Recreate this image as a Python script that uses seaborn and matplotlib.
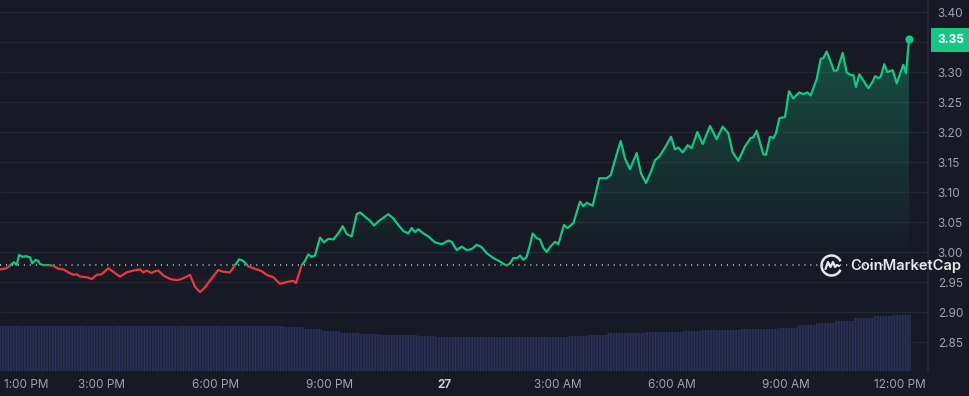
import numpy as np
import pandas as pd
import matplotlib
matplotlib.use("Agg")
import matplotlib.pyplot as plt
from matplotlib.patches import Rectangle, Arc
from matplotlib.path import Path
import seaborn as sns

# time axis: hours after 12:00 PM on the 26th
hours = [
    0.316, 0.492, 0.624, 0.684, 0.755, 0.816, 0.913, 1.000, 1.105, 1.166,
    1.255, 1.324, 1.368, 1.455, 1.587, 1.718, 1.850, 1.982, 2.113, 2.245,
    2.334, 2.421, 2.597, 2.729, 2.861, 2.992, 3.166, 3.297, 3.474, 3.650,
    3.824, 4.000, 4.087, 4.176, 4.308, 4.395, 4.482, 4.613, 4.789, 4.966,
    5.097, 5.229, 5.316, 5.447, 5.579, 5.711, 5.887, 6.061, 6.192, 6.368,
    6.500, 6.613, 6.718, 6.850, 7.026, 7.203, 7.334, 7.508, 7.684, 7.861,
    8.034, 8.105, 8.255, 8.342, 8.429, 8.518, 8.605, 8.737, 8.842, 8.955,
    9.087, 9.218, 9.334, 9.439, 9.571, 9.703, 9.789, 9.921, 10.053, 10.158,
    10.271, 10.403, 10.534, 10.666, 10.797, 10.929, 11.061, 11.150, 11.237, 11.324,
    11.455, 11.587, 11.763, 11.939, 12.026, 12.113, 12.203, 12.334, 12.466, 12.597,
    12.729, 12.861, 12.992, 13.124, 13.297, 13.474, 13.650, 13.737, 13.824, 13.929,
    14.000, 14.087, 14.176, 14.263, 14.334, 14.439, 14.526, 14.613, 14.703, 14.789,
    14.921, 15.008, 15.158, 15.245, 15.403, 15.579, 15.666, 15.755, 15.913, 16.087,
    16.282, 16.387, 16.526, 16.650, 16.763, 16.895, 17.071, 17.184, 17.316, 17.447,
    17.553, 17.666, 17.816, 17.974, 18.079, 18.166, 18.282, 18.413, 18.518, 18.666,
    18.808, 19.000, 19.176, 19.334, 19.482, 19.597, 19.745, 19.921, 20.071, 20.139,
    20.229, 20.403, 20.474, 20.579, 20.666, 20.737, 20.824, 20.974, 21.079, 21.192,
    21.350, 21.455, 21.561, 21.650, 21.808, 21.913, 21.982, 22.071, 22.158, 22.263,
    22.350, 22.492, 22.597, 22.703, 22.771, 22.842, 22.929, 23.034, 23.166, 23.282,
    23.342, 23.429, 23.492, 23.587, 23.666, 23.808, 23.913, 24.087, 24.158, 24.237,
]
price = [
    2.971, 2.973, 2.980, 2.983, 2.978, 2.995, 2.992, 2.993, 2.991, 2.981,
    2.987, 2.985, 2.980, 2.978, 2.978, 2.977, 2.972, 2.971, 2.966, 2.962,
    2.963, 2.959, 2.958, 2.955, 2.962, 2.963, 2.973, 2.967, 2.959, 2.966,
    2.969, 2.971, 2.966, 2.969, 2.965, 2.968, 2.969, 2.961, 2.955, 2.953,
    2.955, 2.959, 2.962, 2.942, 2.933, 2.941, 2.956, 2.970, 2.967, 2.966,
    2.978, 2.988, 2.985, 2.976, 2.972, 2.968, 2.962, 2.958, 2.947, 2.950,
    2.952, 2.948, 2.978, 2.985, 2.996, 2.992, 2.994, 3.024, 3.016, 3.022,
    3.021, 3.031, 3.043, 3.030, 3.026, 3.063, 3.066, 3.059, 3.052, 3.044,
    3.051, 3.057, 3.063, 3.056, 3.045, 3.035, 3.031, 3.040, 3.033, 3.038,
    3.031, 3.026, 3.016, 3.013, 3.016, 3.019, 3.017, 3.003, 3.009, 3.003,
    3.005, 3.012, 3.008, 2.998, 2.990, 2.984, 2.977, 2.981, 2.990, 2.990,
    2.994, 2.987, 2.992, 3.012, 3.031, 3.023, 3.021, 3.007, 3.000, 3.008,
    3.017, 3.013, 3.045, 3.040, 3.048, 3.084, 3.076, 3.082, 3.077, 3.123,
    3.123, 3.128, 3.159, 3.185, 3.156, 3.138, 3.165, 3.131, 3.115, 3.134,
    3.153, 3.159, 3.174, 3.192, 3.171, 3.174, 3.166, 3.178, 3.173, 3.200,
    3.180, 3.210, 3.188, 3.209, 3.198, 3.166, 3.152, 3.176, 3.190, 3.191,
    3.202, 3.163, 3.162, 3.192, 3.190, 3.198, 3.223, 3.225, 3.268, 3.256,
    3.266, 3.263, 3.266, 3.261, 3.288, 3.322, 3.323, 3.334, 3.320, 3.302,
    3.303, 3.332, 3.299, 3.295, 3.295, 3.275, 3.296, 3.286, 3.273, 3.284,
    3.293, 3.290, 3.292, 3.313, 3.300, 3.303, 3.281, 3.312, 3.298, 3.355,
]
open_price = 2.978

# half-hourly volume (millions), bars centred on each slot
vol_hours = [0.55, 1.05, 1.55, 2.05, 2.55, 3.05, 3.55, 4.05, 4.55, 5.05, 5.55, 6.05,
             6.55, 7.05, 7.55, 8.05, 8.55, 9.05, 9.55, 10.05, 10.55, 11.05, 11.55, 12.05,
             12.55, 13.05, 13.55, 14.05, 14.55, 15.05, 15.55, 16.05, 16.55, 17.05, 17.55, 18.05,
             18.55, 19.05, 19.55, 20.05, 20.55, 21.05, 21.55, 22.05, 22.55, 23.05, 23.55, 24.05]
volume = [450, 450, 450, 450, 450, 450, 450, 450, 450, 450, 450, 450,
          450, 450, 450, 440, 420, 400, 385, 375, 365, 357, 350, 342,
          339, 337, 337, 337, 339, 342, 348, 365, 376, 382, 386, 390,
          400, 406, 412, 416, 420, 435, 460, 478, 505, 535, 553, 560]

tick_hours = [1, 3, 6, 9, 12, 15, 18, 21, 24]
tick_labels = ["1:00 PM", "3:00 PM", "6:00 PM", "9:00 PM", "27",
               "3:00 AM", "6:00 AM", "9:00 AM", "12:00 PM"]
price_ticks = [2.85, 2.90, 2.95, 3.00, 3.05, 3.10, 3.15, 3.20, 3.25, 3.30, 3.35, 3.40]

BG = "#171924"
GRID = "#232633"
GREEN = "#16c784"
RED = "#ea3943"
LABEL = "#9ea3b3"

sns.set_theme(style="dark")
plt.rcParams["font.family"] = ["Inter", "DejaVu Sans"]
plt.rcParams["hatch.linewidth"] = 0.9

df = pd.DataFrame({"hours": hours, "price": price})
vol_df = pd.DataFrame({"hours": vol_hours, "volume": volume})

fig = plt.figure(figsize=(9.7, 3.96), dpi=100, facecolor=BG)
ax = fig.add_axes([0, 25 / 396, 928 / 970, 371 / 396])
ax.set_facecolor(BG)

xmin, xmax = 0.316, 24.737
ymin, ymax = 2.8017, 3.42
ax.set_xlim(xmin, xmax)
ax.set_ylim(ymin, ymax)

# gradient fills above / below the opening price
above = ax.fill_between(df["hours"], df["price"], open_price,
                        where=df["price"] >= open_price, interpolate=True,
                        color="none", lw=0)
below = ax.fill_between(df["hours"], df["price"], open_price,
                        where=df["price"] <= open_price, interpolate=True,
                        color="none", lw=0)

g = np.zeros((256, 1, 4))
g[..., :3] = matplotlib.colors.to_rgb(GREEN)
g[:, 0, 3] = np.linspace(0.0, 0.33, 256)
im_g = ax.imshow(g, extent=[xmin, xmax, open_price, 3.36], origin="lower",
                 aspect="auto", zorder=1)
im_g.set_clip_path(Path.make_compound_path(*above.get_paths()), ax.transData)

r = np.zeros((256, 1, 4))
r[..., :3] = matplotlib.colors.to_rgb(RED)
r[:, 0, 3] = np.linspace(0.10, 0.0, 256)
im_r = ax.imshow(r, extent=[xmin, xmax, 2.93, open_price], origin="lower",
                 aspect="auto", zorder=1)
im_r.set_clip_path(Path.make_compound_path(*below.get_paths()), ax.transData)

# price line, green above the open and red below it
sns.lineplot(data=df, x="hours", y="price", color=GREEN, lw=1.6, ax=ax, zorder=3)
sns.lineplot(data=df, x="hours", y="price", color=RED, lw=1.6, ax=ax, zorder=3)
green_line, red_line = ax.lines[-2], ax.lines[-1]
green_line.set_clip_path(Rectangle((xmin, open_price), xmax - xmin, 1.0,
                                   transform=ax.transData))
red_line.set_clip_path(Rectangle((xmin, 2.0), xmax - xmin, open_price - 2.0,
                                 transform=ax.transData))

ax.axhline(open_price, color="#cfd1d8", lw=1.1, ls=(0, (0.7, 3.2)), zorder=2)
ax.scatter([hours[-1]], [price[-1]], s=34, color=GREEN, zorder=4, linewidths=0)

# axes styling
ax.set_yticks(price_ticks)
ax.set_yticklabels(["" if abs(t - 3.35) < 1e-9 else f"{t:.2f}" for t in price_ticks])
ax.set_xticks(tick_hours)
ax.set_xticklabels(tick_labels)
ax.grid(axis="y", color=GRID, lw=1)
ax.grid(axis="x", visible=False)
ax.set_xlabel("")
ax.set_ylabel("")
for s in ["left", "top", "bottom"]:
    ax.spines[s].set_visible(False)
ax.spines["right"].set_color(GRID)

# volume bars on their own scale
ax2 = ax.twinx()
ax2.bar(vol_df["hours"], vol_df["volume"], width=0.5, color="#2b3259",
        edgecolor="#1d2138", linewidth=0, hatch="||||||", zorder=1)
ax2.set_ylim(0, 3710)
ax2.set_yticks([])
for s in ax2.spines.values():
    s.set_visible(False)

ax.yaxis.tick_right()
ax.tick_params(axis="y", length=0, pad=7, labelsize=8.5, labelcolor=LABEL)
ax.tick_params(axis="x", length=0, pad=6, labelsize=8.5, labelcolor=LABEL)
for lab in ax.get_xticklabels():
    if lab.get_text() == "27":
        lab.set_fontweight("bold")
        lab.set_color("#c9ccd4")

# current price badge
ax.text(1.0 + 9 / 928, price[-1] - 0.002, f"{price[-1]:.2f}",
        transform=ax.get_yaxis_transform(), ha="left", va="center",
        fontsize=8.5, fontweight="bold", color="white", zorder=6,
        bbox=dict(boxstyle="square,pad=0.5", fc=GREEN, ec="none"),
        clip_on=False)

# watermark
fig.text(850 / 970, 1 - 266 / 396, "CoinMarketCap", ha="left", va="center",
         fontsize=10.6, fontweight="semibold", color="#e6e7ea", zorder=10)
lax = fig.add_axes([819 / 970, 1 - 278 / 396, 25 / 970, 25 / 396])
lax.set_xlim(-1.25, 1.25)
lax.set_ylim(-1.25, 1.25)
lax.set_aspect("equal")
lax.axis("off")
lax.add_patch(Arc((0, 0), 2.0, 2.0, theta1=25, theta2=335, color="#e6e7ea", lw=1.8))
lax.plot([-0.6, -0.35, -0.1, 0.15, 0.35, 0.55, 0.75],
         [-0.35, 0.35, -0.15, 0.35, -0.15, 0.05, -0.05],
         color="#e6e7ea", lw=1.6, solid_capstyle="round", solid_joinstyle="round")

fig.savefig("out.png", dpi=100, facecolor=BG)
